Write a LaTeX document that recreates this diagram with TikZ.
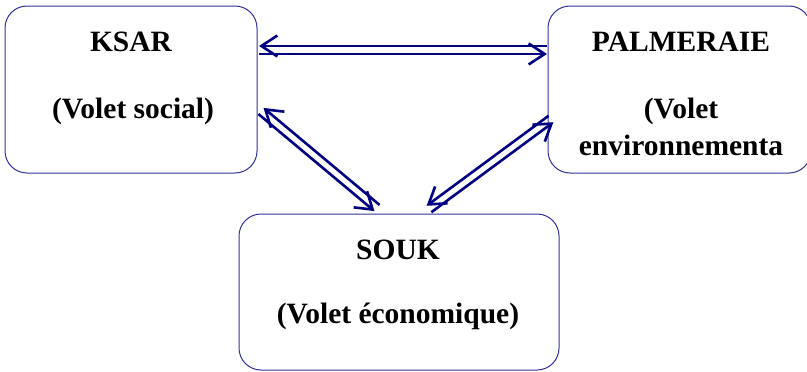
\documentclass[tikz,border=0pt]{standalone}
\usepackage{fontspec}
\setmainfont{Liberation Serif}
\usetikzlibrary{arrows.meta,calc}
\definecolor{boxblue}{RGB}{50,50,155}
\definecolor{arrnavy}{RGB}{0,0,128}
\begin{document}
\begin{tikzpicture}[x=1pt,y=-1pt,
  box/.style={draw=boxblue, line width=1pt, rounded corners=22pt, inner sep=0pt},
  lbl/.style={font=\fontsize{29.5}{35}\selectfont\bfseries, anchor=base, inner sep=0pt},
  dbl/.style={draw=arrnavy, line width=2.6pt, -{Straight Barb[length=16pt,width=21pt]}}]
\useasboundingbox (0,0) rectangle (807,372);
\clip (0,0) rectangle (807,372);
% boxes
\node[box, minimum width=252pt, minimum height=167pt] (ksar) at (131,89.5) {};
\node[box, minimum width=263pt, minimum height=167pt] (palm) at (679.5,89.5) {};
\node[box, minimum width=320pt, minimum height=156pt] (souk) at (399,292) {};
% texts
\node[lbl] (t1) at (131,52) {KSAR};
\node[lbl] (t2) at (133,118) {(Volet social)};
\node[lbl] (t3) at (681,52) {PALMERAIE};
\node[lbl] (t4) at (681,118) {(Volet};
\node[lbl] (t5) at (681,155) {environnementa};
\node[lbl] (t6) at (398,259) {SOUK};
\node[lbl] (t7) at (398,323) {(Volet économique)};
% connector ends
\coordinate (kp) at (259,50);
\coordinate (pk) at (547,50);
\coordinate (ks) at (261,111);
\coordinate (sk) at (377,208);
\coordinate (ps) at (551,119);
\coordinate (sp) at (429,209);
% double arrows
\draw[dbl] ($(pk)!4pt!-90:(kp)$) -- ($(kp)!4pt!90:(pk)$);
\draw[dbl] ($(kp)!4pt!-90:(pk)$) -- ($(pk)!4pt!90:(kp)$);
\draw[dbl] ($(sk)!4pt!-90:(ks)$) -- ($(ks)!4pt!90:(sk)$);
\draw[dbl] ($(ks)!4pt!-90:(sk)$) -- ($(sk)!4pt!90:(ks)$);
\draw[dbl] ($(ps)!4pt!-90:(sp)$) -- ($(sp)!4pt!90:(ps)$);
\draw[dbl] ($(sp)!4pt!-90:(ps)$) -- ($(ps)!4pt!90:(sp)$);
\end{tikzpicture}
\end{document}
